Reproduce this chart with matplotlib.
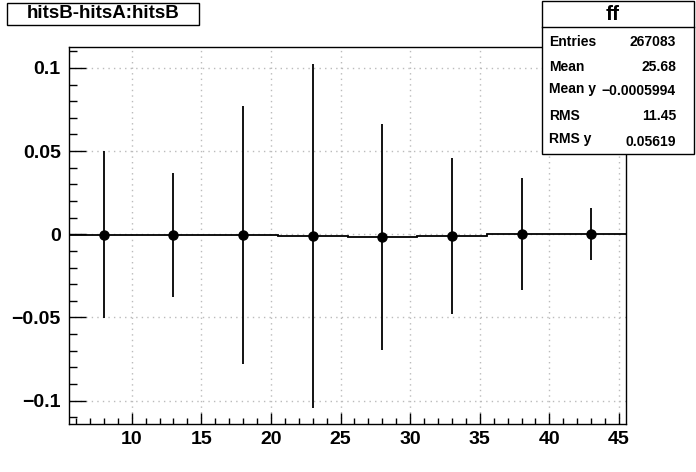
"""
Profile plot hitsB-hitsA vs hitsB, drawn in the style of a ROOT TProfile canvas.
Saved to out.png
"""

import matplotlib

matplotlib.use("Agg")
import matplotlib.pyplot as plt
from matplotlib.patches import Rectangle
from matplotlib.lines import Line2D
from matplotlib.ticker import MultipleLocator, FuncFormatter

W, H = 696, 472

# profile bins (hitsB), mean of hitsB-hitsA and its spread per bin
bin_edges = [5.5, 10.5, 15.5, 20.5, 25.5, 30.5, 35.5, 40.5, 45.5]
bin_centers = [8, 13, 18, 23, 28, 33, 38, 43]
bin_means = [-0.0003, -0.0003, -0.0006, -0.0011, -0.0019, -0.0011, 0.0002, 0.0001]
bin_errors = [0.0502, 0.0373, 0.0777, 0.1035, 0.0680, 0.0470, 0.0337, 0.0154]

title = "hitsB-hitsA:hitsB"
stats_name = "ff"
stats_labels = ["Entries", "Mean", "Mean y", "RMS", "RMS y"]
stats_values = ["267083", "25.68", "\u22120.0005994", "11.45", "0.05619"]

plt.rcParams["font.family"] = ["Liberation Sans", "DejaVu Sans"]
plt.rcParams["font.weight"] = "bold"


def fx(px):
    return px / W


def fy(py):
    return 1 - py / H


fig = plt.figure(figsize=(W / 100, H / 100), dpi=100)
ax = fig.add_axes([fx(69), fy(424), fx(626) - fx(69), fy(47) - fy(424)])

ax.stairs(bin_means, bin_edges, color="black", linewidth=1.3, baseline=None)
ax.errorbar(bin_centers, bin_means, yerr=bin_errors, fmt="o", color="black",
            ms=6.5, elinewidth=1.3, capsize=0)

ax.set_xlim(5.5, 45.5)
ax.set_ylim(-0.1141, 0.1126)

ax.xaxis.set_major_locator(MultipleLocator(5))
ax.xaxis.set_minor_locator(MultipleLocator(1))
ax.yaxis.set_major_locator(MultipleLocator(0.05))
ax.yaxis.set_minor_locator(MultipleLocator(0.01))


def yfmt(v, pos):
    if abs(v) < 1e-9:
        return "0"
    return f"{v:g}".replace("-", "\u2212")


ax.yaxis.set_major_formatter(FuncFormatter(yfmt))

ax.tick_params(axis="x", which="major", direction="in", length=8, width=1,
               labelsize=14, pad=5, top=False)
ax.tick_params(axis="x", which="minor", direction="in", length=4, width=1, top=False)
ax.tick_params(axis="y", which="major", direction="in", length=12, width=1,
               labelsize=14, pad=6, right=False)
ax.tick_params(axis="y", which="minor", direction="in", length=6, width=1, right=False)
for lab in ax.get_xticklabels() + ax.get_yticklabels():
    lab.set_fontweight("bold")

ax.grid(True, which="major", color="#bbbbbb", linestyle=(0, (1, 3)), linewidth=1)
ax.set_axisbelow(True)
for sp in ax.spines.values():
    sp.set_linewidth(1)

# title box
fig.add_artist(Rectangle((fx(7), fy(25)), fx(199) - fx(7), fy(3) - fy(25),
                         transform=fig.transFigure, facecolor="white",
                         edgecolor="black", linewidth=1))
fig.text(fx(103), fy(14), title, ha="center", va="center", fontsize=13.5,
         fontweight="bold")

# stats box
fig.add_artist(Rectangle((fx(542), fy(154)), fx(694) - fx(542), fy(1) - fy(154),
                         transform=fig.transFigure, facecolor="white",
                         edgecolor="black", linewidth=1, zorder=5))
fig.add_artist(Line2D([fx(542), fx(694)], [fy(27), fy(27)], transform=fig.transFigure,
                      color="black", linewidth=1, zorder=6))
fig.text(fx(613), fy(14), stats_name, ha="center", va="center", fontsize=15,
         fontweight="bold", zorder=7)
row_y = [42, 67, 89, 116, 139]
val_shift = [0, 0, 2, 0, 3]
for lab, val, y, dy in zip(stats_labels, stats_values, row_y, val_shift):
    fig.text(fx(549), fy(y), lab, ha="left", va="center", fontsize=10,
             fontweight="bold", zorder=7)
    fig.text(fx(676), fy(y + dy), val, ha="right", va="center", fontsize=10,
             fontweight="bold", zorder=7)

fig.savefig("out.png", dpi=100)
